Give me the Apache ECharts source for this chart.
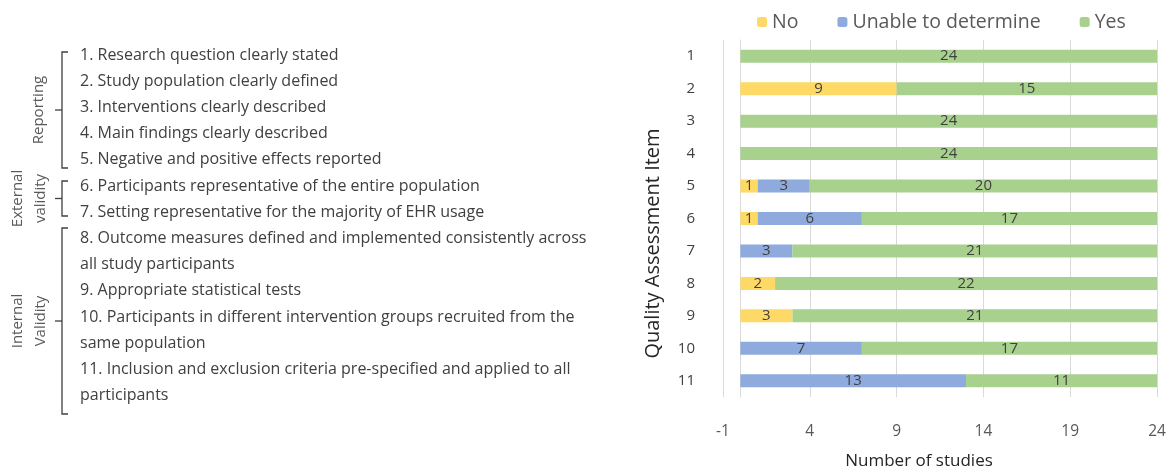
<!DOCTYPE html>
<html>
<head>
<meta charset="utf-8">
<style>
  html, body { margin: 0; padding: 0; background: #fff; }
  #chart { width: 1172px; height: 475px; }
</style>
<script src="https://cdn.jsdelivr.net/npm/echarts@6/dist/echarts.min.js"></script>
</head>
<body>
<div id="chart"></div>
<script>
// ---- data ----
const items = ['1', '2', '3', '4', '5', '6', '7', '8', '9', '10', '11']
const noData = [0, 9, 0, 0, 1, 1, 0, 2, 3, 0, 0]
const unableData = [0, 0, 0, 0, 3, 6, 3, 0, 0, 7, 13]
const yesData = [24, 15, 24, 24, 20, 17, 21, 22, 21, 17, 11]

// left-hand item descriptions, one entry per printed line
const itemLines = [
  '1. Research question clearly stated',
  '2. Study population clearly defined',
  '3. Interventions clearly described',
  '4. Main findings clearly described',
  '5. Negative and positive effects reported',
  '6. Participants representative of the entire population',
  '7. Setting representative for the majority of EHR usage',
  '8. Outcome measures defined and implemented consistently across',
  'all study participants',
  '9. Appropriate statistical tests',
  '10. Participants in different intervention groups recruited from the',
  'same population',
  '11. Inclusion and exclusion criteria pre-specified and applied to all',
  'participants',
]
const groups = [
  { name: 'Reporting', top: 52, bottom: 168 },
  { name: 'External\nvalidity', top: 181, bottom: 216 },
  { name: 'Internal\nValidity', top: 228, bottom: 414 },
]

const FONT = '"Open Sans", Lato, sans-serif'
const chart = echarts.init(document.getElementById('chart'))

// ---- left panel (text + brackets) ----
const graphics = []
itemLines.forEach((t, i) => {
  graphics.push({
    type: 'text',
    x: 80,
    y: 55 + i * 26.2,
    style: {
      text: t,
      fill: '#404040',
      font: '16px ' + FONT,
      textVerticalAlign: 'middle',
    },
  })
})
groups.forEach((g) => {
  const mid = (g.top + g.bottom) / 2
  graphics.push({
    type: 'polyline',
    shape: { points: [[68, g.top], [62, g.top], [62, g.bottom], [68, g.bottom]] },
    style: { stroke: '#404040', lineWidth: 1.3, fill: null },
  })
  graphics.push({
    type: 'line',
    shape: { x1: 55, y1: mid, x2: 62, y2: mid },
    style: { stroke: '#404040', lineWidth: 1.3 },
  })
  const twoLines = g.name.indexOf('\n') >= 0
  graphics.push({
    type: 'text',
    x: twoLines ? 29 : 39,
    y: mid,
    rotation: Math.PI / 2,
    style: {
      text: g.name,
      fill: '#595959',
      font: '15px ' + FONT,
      lineHeight: 23,
      align: 'center',
      verticalAlign: 'middle',
    },
  })
})

// ---- bar chart ----
const labelOpt = {
  show: true,
  position: 'inside',
  color: '#404040',
  fontSize: 15,
  fontFamily: FONT,
  formatter: (p) => (p.value > 0 ? p.value : ''),
}

chart.setOption({
  animation: false,
  textStyle: { fontFamily: FONT },
  legend: {
    top: 7,
    left: 752,
    itemWidth: 10,
    itemHeight: 10,
    itemGap: 39,
    textStyle: { color: '#595959', fontSize: 19.5, fontFamily: FONT },
    data: ['No', 'Unable to determine', 'Yes'],
  },
  grid: { left: 723, right: 15, top: 40, bottom: 66 },
  xAxis: {
    type: 'value',
    min: -1,
    max: 24,
    interval: 5,
    name: 'Number of studies',
    nameLocation: 'middle',
    nameGap: 56,
    nameTextStyle: { color: '#262626', fontSize: 17, fontFamily: FONT, padding: [0, 42, 0, 0] },
    axisLine: { show: false },
    axisTick: { show: false },
    axisLabel: { color: '#595959', fontSize: 15.5, margin: 27 },
    splitLine: { lineStyle: { color: '#d9d9d9' } },
  },
  yAxis: {
    type: 'category',
    data: items,
    inverse: true,
    name: 'Quality Assessment Item',
    nameLocation: 'middle',
    nameRotate: 90,
    nameGap: 60,
    nameTextStyle: { color: '#262626', fontSize: 20, fontFamily: FONT, padding: [0, 50, 0, 0] },
    axisLine: { show: true, lineStyle: { color: '#d9d9d9' } },
    axisTick: { show: false },
    axisLabel: { color: '#404040', fontSize: 15, margin: 28 },
  },
  series: [
    { name: 'No', type: 'bar', stack: 'a', data: noData, barWidth: 13,
      itemStyle: { color: '#FFD966' }, label: labelOpt },
    { name: 'Unable to determine', type: 'bar', stack: 'a', data: unableData,
      itemStyle: { color: '#8FAADC' }, label: labelOpt },
    { name: 'Yes', type: 'bar', stack: 'a', data: yesData,
      itemStyle: { color: '#A9D18E' }, label: labelOpt },
  ],
  graphic: graphics,
})

window.addEventListener('resize', () => chart.resize())
</script>
</body>
</html>
